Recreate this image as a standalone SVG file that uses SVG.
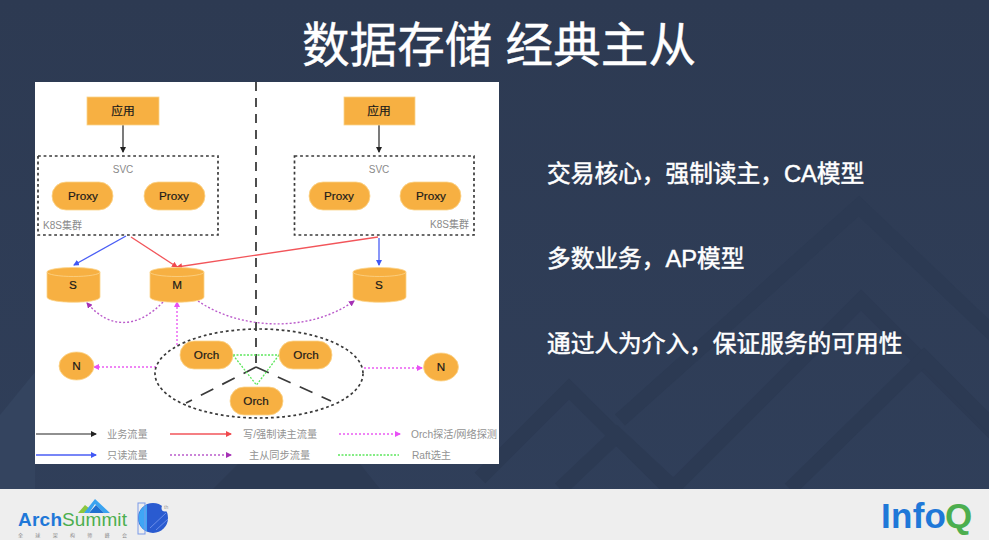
<svg xmlns="http://www.w3.org/2000/svg" width="989" height="540" viewBox="0 0 989 540">
<defs>
<linearGradient id="bg" x1="0" y1="0" x2="0" y2="1"><stop offset="0" stop-color="#2d3a52"/><stop offset="1" stop-color="#303f5a"/></linearGradient>
<marker id="ak" markerWidth="6" markerHeight="6" refX="5" refY="3" orient="auto" markerUnits="userSpaceOnUse"><path d="M0,0L6,3L0,6Z" fill="#222"/></marker>
<marker id="ab" markerWidth="6" markerHeight="6" refX="5" refY="3" orient="auto" markerUnits="userSpaceOnUse"><path d="M0,0L6,3L0,6Z" fill="#4058f5"/></marker>
<marker id="ar" markerWidth="6" markerHeight="6" refX="5" refY="3" orient="auto" markerUnits="userSpaceOnUse"><path d="M0,0L6,3L0,6Z" fill="#f0484c"/></marker>
<marker id="ap" markerWidth="6" markerHeight="6" refX="5" refY="3" orient="auto" markerUnits="userSpaceOnUse"><path d="M0,0L6,3L0,6Z" fill="#a531b5"/></marker>
<marker id="am" markerWidth="6" markerHeight="6" refX="5" refY="3" orient="auto" markerUnits="userSpaceOnUse"><path d="M0,0L6,3L0,6Z" fill="#e850f5"/></marker>
</defs>
<style>
text{font-family:"Liberation Sans","Noto Sans CJK SC",sans-serif}
.o{fill:#f7b042;stroke:#fbd48c;stroke-width:.8}
.t{font-size:11.700px;fill:#1a1a1a;text-anchor:middle;stroke:#1a1a1a;stroke-width:.2}
.g{font-size:10px;fill:#8a8a8a}
.l{font-size:10.200px;fill:#929292}
.box{fill:none;stroke:#3a3a3a;stroke-width:1.700;stroke-dasharray:2.800 2.800}
.c{fill:none}
.k{stroke:#222;stroke-width:1.200}
.b{stroke:#4a5ef5;stroke-width:1.300}
.r{stroke:#f2555a;stroke-width:1.300}
.p{stroke:#bb5ccb;stroke-width:1.400;stroke-dasharray:2 2}
.m{stroke:#ea5cf2;stroke-width:1.400;stroke-dasharray:2 2}
.n{stroke:#5ce65c;stroke-width:1.300;stroke-dasharray:2 1.500}
.bullet{font-size:23.700px;fill:#fff;stroke:#fff;stroke-width:.5}
.chev{fill:none;stroke:#2c3a53;stroke-width:15}
</style>
<rect width="989" height="540" fill="url(#bg)"/>
<path d="M0,415L35,372V489H213V489H0Z" fill="#34445f"/>
<path d="M213,489L238,464H360L380,489Z" fill="#2c3a53"/>
<path class="chev" d="M620,420L859,206L1010,350"/>
<path class="chev" d="M672,489L861,300L1000,439"/>
<path class="chev" d="M790,489L924,358L1000,434"/>
<path class="chev" d="M480,478L569,389L670,489"/>
<path class="chev" d="M560,489L617,435L675,489"/>
<text x="499" y="62" font-size="47.600" fill="#fff" stroke="#fff" stroke-width=".4" text-anchor="middle">数据存储 经典主从</text>
<rect x="35" y="82" width="464" height="382" fill="#fff"/>
<g id="connectors">
<path class="c" d="M256,82V364" stroke="#222" stroke-width="1.600" stroke-dasharray="9 7"/>
<path class="c" d="M256,367L186,403M256,367L331,401" stroke="#3a3a3a" stroke-width="1.700" stroke-dasharray="14 10"/>
<path class="c n" d="M233,355H279M233,355L256.500,385L279,355"/>
<path class="c k" d="M123,125V152" marker-end="url(#ak)"/>
<path class="c k" d="M379,125V152" marker-end="url(#ak)"/>
<path class="c b" d="M126,236L74,265" marker-end="url(#ab)"/>
<path class="c r" d="M131,237L177,267" marker-end="url(#ar)"/>
<path class="c r" d="M378,237L177,267" marker-end="url(#ar)"/>
<path class="c b" d="M379,238V265" marker-end="url(#ab)"/>
<path class="c p" d="M163,302C140,326 112,332 87,303" marker-end="url(#ap)"/>
<path class="c p" d="M198,301C240,330 310,333 354,301" marker-end="url(#ap)"/>
<path class="c m" d="M177,345V302" marker-end="url(#am)"/>
<path class="c m" d="M156,367H94" marker-end="url(#am)"/>
<path class="c m" d="M364,368H422" marker-end="url(#am)"/>
<ellipse class="box" cx="259" cy="373.500" rx="104" ry="44.500"/>
</g>
<g id="app-left"><rect class="o" x="87" y="97" width="72" height="28"/><text class="t" x="123" y="115">应用</text></g>
<g id="app-right"><rect class="o" x="344" y="97" width="71" height="28"/><text class="t" x="379" y="115">应用</text></g>
<g id="svc-left"><rect class="box" x="38" y="156" width="180" height="79"/><text class="g" x="123" y="173" text-anchor="middle">SVC</text><text class="g" x="43" y="229">K8S集群</text></g>
<g id="svc-right"><rect class="box" x="294.500" y="156" width="179.500" height="79"/><text class="g" x="379" y="173" text-anchor="middle">SVC</text><text class="g" x="430" y="228">K8S集群</text></g>
<g id="proxy-1"><rect class="o" x="52" y="182" width="61" height="28" rx="14"/><text class="t" x="83" y="200">Proxy</text></g>
<g id="proxy-2"><rect class="o" x="144" y="182" width="61" height="28" rx="14"/><text class="t" x="174" y="200">Proxy</text></g>
<g id="proxy-3"><rect class="o" x="309" y="182" width="61" height="28" rx="14"/><text class="t" x="339" y="200">Proxy</text></g>
<g id="proxy-4"><rect class="o" x="400" y="182" width="61" height="28" rx="14"/><text class="t" x="431" y="200">Proxy</text></g>
<g id="db-s1"><path class="o" d="M47,272V297C47,304 100,304 100,297V272Z"/><ellipse class="o" cx="73.500" cy="272" rx="26.500" ry="4.500"/><text class="t" x="73" y="289">S</text></g>
<g id="db-m"><path class="o" d="M150,272V297C150,304 204,304 204,297V272Z"/><ellipse class="o" cx="177" cy="272" rx="27" ry="4.500"/><text class="t" x="177" y="289">M</text></g>
<g id="db-s2"><path class="o" d="M353,272V297C353,304 406,304 406,297V272Z"/><ellipse class="o" cx="379.500" cy="272" rx="26.500" ry="4.500"/><text class="t" x="379" y="289">S</text></g>
<g id="n-left"><ellipse class="o" cx="76.500" cy="366" rx="17.500" ry="14"/><text class="t" x="76.500" y="370">N</text></g>
<g id="n-right"><ellipse class="o" cx="441" cy="367" rx="17.500" ry="14"/><text class="t" x="441" y="371">N</text></g>
<g id="orch-1"><rect class="o" x="180" y="341" width="53" height="28" rx="14"/><text class="t" x="206.500" y="359">Orch</text></g>
<g id="orch-2"><rect class="o" x="279" y="341" width="53" height="28" rx="14"/><text class="t" x="306" y="359">Orch</text></g>
<g id="orch-3"><rect class="o" x="230" y="387" width="53" height="28" rx="14"/><text class="t" x="256" y="405">Orch</text></g>
<g id="legend">
<path class="c k" d="M36,434H96" marker-end="url(#ak)"/><text class="l" x="107" y="438">业务流量</text>
<path class="c r" d="M170,434H231" marker-end="url(#ar)"/><text class="l" x="243" y="438">写/强制读主流量</text>
<path class="c m" d="M339,434H400" marker-end="url(#am)"/><text class="l" x="411" y="438">Orch探活/网络探测</text>
<path class="c b" d="M36,455H96" marker-end="url(#ab)"/><text class="l" x="107" y="459">只读流量</text>
<path class="c p" d="M170,455H231" marker-end="url(#ap)"/><text class="l" x="249" y="459">主从同步流量</text>
<path class="c n" d="M338,455H399"/><text class="l" x="412" y="459">Raft选主</text>
</g>
<text class="bullet" x="547" y="182">交易核心，强制读主，CA模型</text>
<text class="bullet" x="547" y="267">多数业务，AP模型</text>
<text class="bullet" x="547" y="352">通过人为介入，保证服务的可用性</text>
<rect y="489" width="989" height="51" fill="#eeeeee"/>
<g id="logos">
<path d="M78,513L85,505L90,509L84,513Z" fill="#8cc63f"/>
<path d="M84,513L95,499L110,513H104L95,504L89,513Z" fill="#3aa3f0"/><path d="M89,513L96,505L104,513Z" fill="#1f6fd0"/>
<text x="18" y="526" font-size="19" font-weight="bold" fill="#1f78d8" textLength="44">Arch</text>
<text x="62" y="526" font-size="19" fill="#4cae4f" textLength="65">Summit</text>
<text x="18" y="537" font-size="5" fill="#8a8a8a" textLength="109">全球架构师峰会</text>
<circle cx="153" cy="518" r="15" fill="#2a5bd0"/><path d="M147,504.500A15,15 0 0 0 147,531.500Z" fill="#3fa6f5"/><rect x="138" y="503" width="7" height="31" fill="none" stroke="#7a9ae8"/><circle cx="165" cy="508" r="3.500" fill="#eeeeee"/>
<path d="M150,528L166,513M156,530L168,519" stroke="#6a8de8" stroke-width="1" fill="none"/>
<text x="164" y="509" font-size="5" fill="#9a9a9a">th</text>
<text x="881" y="528" font-size="35" font-weight="bold" fill="#1f78d8" textLength="65">Info</text>
<text x="945" y="528" font-size="35" font-weight="bold" fill="#4cae4f" textLength="31">Q</text>
</g>
</svg>
